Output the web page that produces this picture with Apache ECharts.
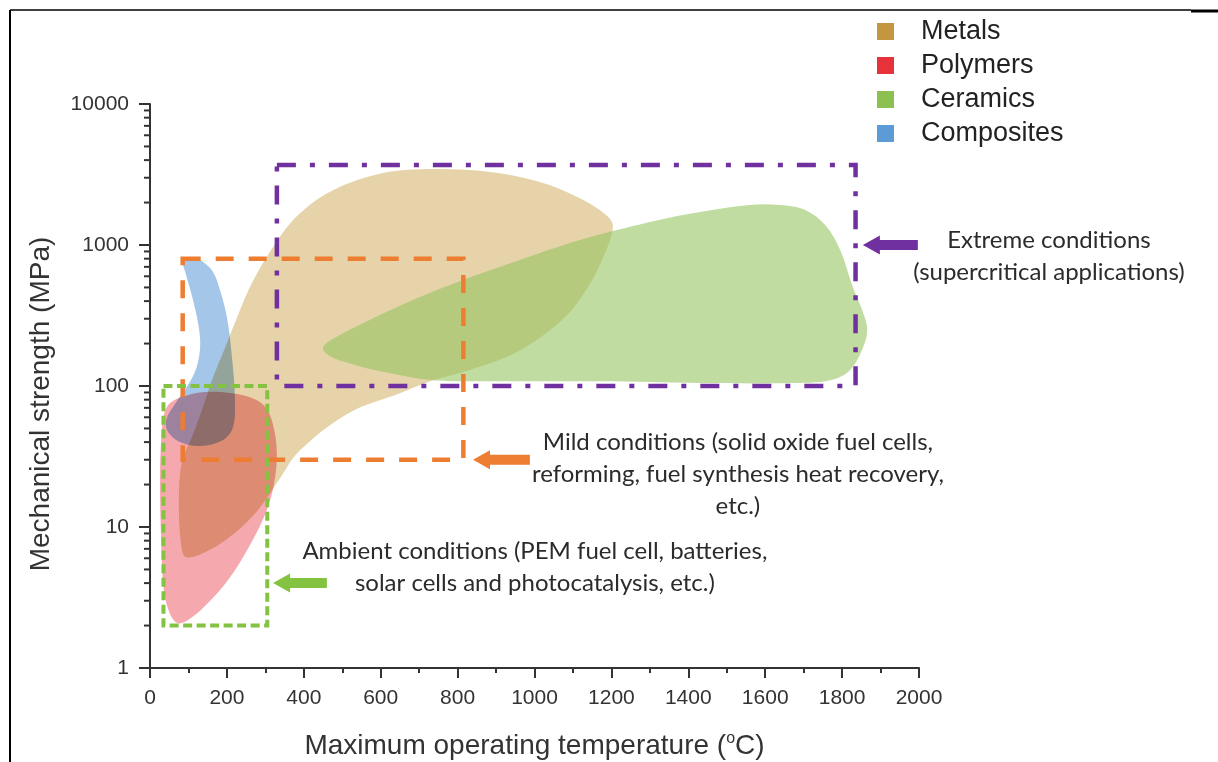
<!DOCTYPE html>
<html><head><meta charset="utf-8">
<script src="https://cdn.jsdelivr.net/npm/echarts@6/dist/echarts.min.js"></script>
<style>html,body{margin:0;padding:0;background:#fff}#c{width:1218px;height:762px}</style>
</head><body><div id="c"></div>
<script>
// ---- data (x: max operating temperature °C, y: mechanical strength MPa) ----
const categories = ['Metals', 'Polymers', 'Ceramics', 'Composites'];
const metals = [[94,6.1],[81,7.5],[75,15.5],[83,29],[109,43.5],[138,71],[161,110],[195,186],[229,319],[265,537],[320,968],[385,1630],[476,2450],[606,3240],[736,3460],[884,3300],[1014,2800],[1118,2150],[1183,1660],[1204,1360],[1178,810],[1131,464],[1072,294],[954,174],[832,130],[736,110],[650,89],[520,65],[390,35],[330,20.5],[281,13.2],[221,9.1],[156,6.9]];
const polymers = [[52,75.7],[91,85],[143,90.7],[208,89.2],[265,82.2],[302,69.8],[322,50.4],[330,32.4],[322,19.9],[302,12.8],[260,7.46],[203,4.21],[143,2.75],[99,2.19],[73,2.08],[52,2.42],[36,3.57],[29,8.09],[26,21.5],[29,41.4],[36,62.3]];
const ceramics = [[450,189],[494,230],[598,319],[702,428],[814,565],[962,783],[1118,1084],[1300,1456],[1430,1714],[1560,1922],[1638,1922],[1704,1771],[1756,1386],[1795,922],[1826,520],[1852,346],[1865,258],[1857,195],[1821,130],[1769,110],[1665,105],[1430,105],[1170,108],[910,108],[736,110],[606,126],[507,148],[463,166]];
const composites = [[86,783],[109,822],[138,757],[164,644],[182,480],[200,308],[213,161],[221,79.6],[216,51.2],[190,41.4],[130,37.5],[78,40.1],[47,47.2],[42,57.4],[65,74.5],[104,107],[125,148],[130,223],[112,407],[94,613]];

// condition boxes: [xMin, xMax, yMin, yMax]
const ambientBox = [35, 305, 2, 100];
const mildBox = [85, 815, 30, 800];
const extremeBox = [330, 1835, 100, 3700];

// arrows: [tipX, y, tailX]
const ambientArrow = [320, 4, 460];
const mildArrow = [840, 30, 988];
const extremeArrow = [1854, 1000, 1997];

// annotation anchors [x, y] and texts
const annotationAnchors = [[1001, 5.2], [1529, 23.8], [2338, 836]];
const annotationTexts = [
  'Ambient conditions (PEM fuel cell, batteries,\nsolar cells and photocatalysis, etc.)',
  'Mild conditions (solid oxide fuel cells,\nreforming, fuel synthesis heat recovery,\netc.)',
  'Extreme conditions\n(supercritical applications)'
];

// axis ticks
const yMajorTicks = [1, 10, 100, 1000, 10000];
const yMinorTicks = [2,3,4,5,6,7,8,9,20,30,40,50,60,70,80,90,200,300,400,500,600,700,800,900,2000,3000,4000,5000,6000,7000,8000,9000];

// ---- styles ----
const legendColors = {Metals:'#c3963f', Polymers:'#e8323a', Ceramics:'#8cc152', Composites:'#5d9bd6'};
const fillColors = {Metals:'#e6d3a9', Polymers:'#f5a8ad', Ceramics:'rgba(150,197,97,0.6)', Composites:'#a4c6e8'};
const blendModes = {Metals:'multiply', Polymers:'multiply', Ceramics:'source-over', Composites:'multiply'};
const shapes = {Metals: metals, Polymers: polymers, Ceramics: ceramics, Composites: composites};
const AXIS = '#333';
const FONT = 'Liberation Sans, Arial, sans-serif';
const ANN_FONT = 'Lato, "Open Sans", sans-serif';

function blob(name) {
  const pts = shapes[name];
  return {
    type: 'custom', name, silent: true, z: 1, blendMode: blendModes[name],
    itemStyle: {color: legendColors[name]},
    data: [pts[0]],
    renderItem: (params, api) => ({
      type: 'polygon',
      shape: {points: pts.map(p => api.coord(p)), smooth: 0.35},
      style: {fill: fillColors[name]}
    })
  };
}

function box(b, color, width, dash) {
  return {
    type: 'custom', silent: true, z: 3,
    data: [[b[0], b[2]]],
    renderItem: (params, api) => {
      const p0 = api.coord([b[0], b[3]]);
      const p1 = api.coord([b[1], b[2]]);
      return {type: 'rect', shape: {x: p0[0], y: p0[1], width: p1[0]-p0[0], height: p1[1]-p0[1]},
        style: {fill: 'none', stroke: color, lineWidth: width, lineDash: dash}};
    }
  };
}

function arrow(a, color) {
  return {
    type: 'custom', silent: true, z: 3,
    data: [[a[0], a[1]]],
    renderItem: (params, api) => {
      const tip = api.coord([a[0], a[1]]);
      const tail = api.coord([a[2], a[1]]);
      const hl = 17, hh = 9.5, sh = 5;
      return {type: 'group', children: [
        {type: 'polygon', shape: {points: [[tip[0], tip[1]], [tip[0]+hl, tip[1]-hh], [tip[0]+hl, tip[1]+hh]]}, style: {fill: color}},
        {type: 'rect', shape: {x: tip[0]+hl-1, y: tip[1]-sh, width: tail[0]-tip[0]-hl+1, height: sh*2}, style: {fill: color}}
      ]};
    }
  };
}

const minorTickSeries = {
  type: 'custom', silent: true, z: 4,
  data: yMinorTicks.map(v => [0, v]),
  renderItem: (params, api) => {
    const p = api.coord([0, api.value(1)]);
    return {type: 'line', shape: {x1: p[0]-6, y1: p[1], x2: p[0], y2: p[1]}, style: {stroke: AXIS, lineWidth: 2}};
  }
};

const annotationSeries = {
  type: 'custom', silent: true, z: 5,
  data: annotationAnchors,
  renderItem: (params, api) => {
    const p = api.coord([api.value(0), api.value(1)]);
    return {type: 'text', x: p[0], y: p[1], style: {
      text: annotationTexts[params.dataIndex], align: 'center', verticalAlign: 'middle',
      fontSize: 24, lineHeight: 32, fontFamily: ANN_FONT, fill: '#2b2b2b'}};
  }
};

const chart = echarts.init(document.getElementById('c'), null, {renderer: 'canvas'});
chart.setOption({
  backgroundColor: '#fff',
  animation: false,
  grid: {left: 150, right: 299, top: 104, bottom: 94, containLabel: false, outerBoundsMode: 'none'},
  legend: {
    orient: 'vertical', left: 872, top: 13, itemWidth: 17, itemHeight: 17, itemGap: 7,
    icon: 'rect', selectedMode: false, data: categories,
    textStyle: {fontSize: 27, lineHeight: 27, color: '#222', fontFamily: FONT, padding: [0, 0, 0, 22]}
  },
  xAxis: {
    type: 'value', min: 0, max: 2000, interval: 200,
    axisLine: {show: true, lineStyle: {color: AXIS, width: 2}},
    axisTick: {show: true, length: 10, lineStyle: {color: AXIS, width: 2}},
    minorTick: {show: true, splitNumber: 2, length: 5, lineStyle: {color: AXIS, width: 2}},
    splitLine: {show: false},
    axisLabel: {fontSize: 21, color: AXIS, fontFamily: FONT, margin: 20, formatter: v => String(v)},
    name: 'Maximum operating temperature ({sup|o}C)', nameLocation: 'middle', nameGap: 63,
    nameTextStyle: {fontSize: 28, color: AXIS, fontFamily: FONT,
      rich: {sup: {fontSize: 16, fontFamily: FONT, color: AXIS, padding: [0, 0, 15, 0]}}}
  },
  yAxis: {
    type: 'log', logBase: 10, min: 1, max: 10000,
    axisLine: {show: true, lineStyle: {color: AXIS, width: 2}},
    axisTick: {show: true, length: 11, lineStyle: {color: AXIS, width: 2}},
    splitLine: {show: false},
    axisLabel: {fontSize: 21, color: AXIS, fontFamily: FONT, margin: 21,
      formatter: v => String(Math.round(v))},
    name: 'Mechanical strength (MPa)', nameLocation: 'middle', nameGap: 95, nameRotate: 90,
    nameTextStyle: {fontSize: 28, color: AXIS, fontFamily: FONT, padding: [0, 36, 0, 0]}
  },
  graphic: [
    {type: 'line', shape: {x1: 10, y1: 10, x2: 10, y2: 762}, style: {stroke: '#000', lineWidth: 2}},
    {type: 'line', shape: {x1: 10, y1: 10, x2: 1191, y2: 10}, style: {stroke: '#000', lineWidth: 1.5}},
    {type: 'line', shape: {x1: 1191, y1: 11, x2: 1218, y2: 11}, style: {stroke: '#000', lineWidth: 3}}
  ],
  series: [
    blob('Metals'), blob('Ceramics'), blob('Polymers'), blob('Composites'),
    box(mildBox, '#ed7d31', 4.5, [18, 15]),
    box(ambientBox, '#84c241', 4, [9, 4.5]),
    box(extremeBox, '#7030a0', 4.5, [19, 14, 5, 14]),
    arrow(ambientArrow, '#84c241'),
    arrow(mildArrow, '#ed7d31'),
    arrow(extremeArrow, '#7030a0'),
    minorTickSeries,
    annotationSeries
  ]
});
</script></body></html>
